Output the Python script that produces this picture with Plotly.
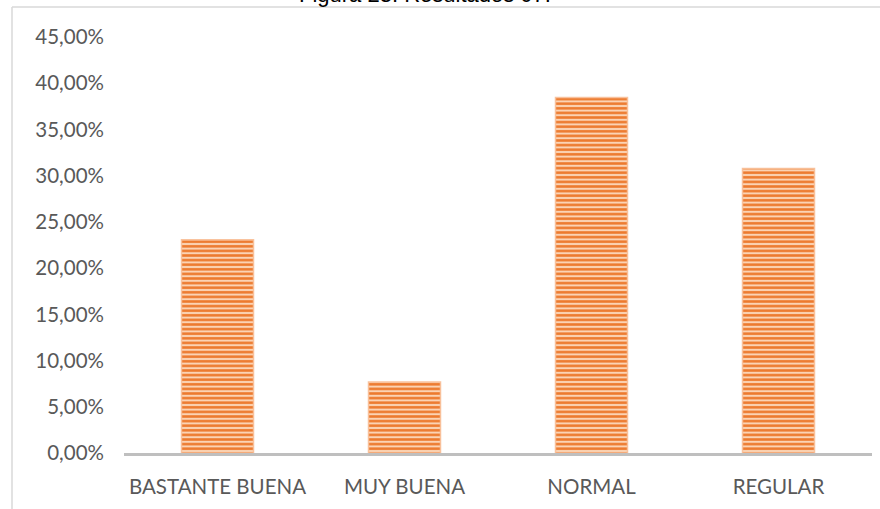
import plotly.graph_objects as go

categories = ["BASTANTE BUENA", "MUY BUENA", "NORMAL", "REGULAR"]
values = [23.08, 7.69, 38.46, 30.77]
tick_vals = [0, 5, 10, 15, 20, 25, 30, 35, 40, 45]
tick_labels = ["0,00%", "5,00%", "10,00%", "15,00%", "20,00%", "25,00%",
               "30,00%", "35,00%", "40,00%", "45,00%"]
title_text = "Figura 23. Resultados 07."

W, H = 880, 509
L, R, T, B = 124, 8, 37, 56
pw, ph = W - L - R, H - T - B

def px_to_paper_x(x):
    return (x - L) / pw

def px_to_paper_y(y):
    return (H - B - y) / ph

fig = go.Figure(go.Bar(
    x=categories, y=values, width=0.385,
    marker=dict(
        color="#F8C9A6",
        line=dict(color="rgba(248,190,150,0.9)", width=1.5),
        pattern=dict(shape="-", fgcolor="#ED7A2E", bgcolor="#FBD3B4",
                     size=4.6, solidity=0.55, fillmode="replace"),
    ),
    hoverinfo="x+y",
))

fig.update_layout(
    width=W, height=H,
    margin=dict(l=L, r=R, t=T, b=B, pad=0),
    paper_bgcolor="white", plot_bgcolor="white",
    showlegend=False,
    font=dict(family="Lato, Calibri, sans-serif", color="#595959", size=20.5),
    xaxis=dict(showgrid=False, showline=True, linecolor="#BFBFBF", linewidth=3,
               ticks="", ticklabelstandoff=13, zeroline=False,
               tickfont=dict(size=20.5, color="#595959")),
    yaxis=dict(range=[0, 45], tickvals=tick_vals, ticktext=tick_labels,
               showgrid=False, showline=False, zeroline=False, ticks="",
               ticklabelstandoff=19, tickfont=dict(size=20.5, color="#595959")),
    shapes=[
        dict(type="line", xref="paper", yref="paper",
             x0=px_to_paper_x(12), x1=px_to_paper_x(12),
             y0=px_to_paper_y(515), y1=px_to_paper_y(7),
             line=dict(color="#D9D9D9", width=1.5)),
        dict(type="line", xref="paper", yref="paper",
             x0=px_to_paper_x(12), x1=px_to_paper_x(890),
             y0=px_to_paper_y(7), y1=px_to_paper_y(7),
             line=dict(color="#D9D9D9", width=1.5)),
    ],
    annotations=[
        dict(text=title_text, xref="paper", yref="paper",
             x=px_to_paper_x(425), y=px_to_paper_y(-5),
             xanchor="center", yanchor="middle", showarrow=False,
             font=dict(family="Liberation Sans, Arial", size=22, color="black")),
    ],
)

fig.write_html("out.html", config={"displayModeBar": False},
               post_script="document.body.style.margin='0';document.body.style.padding='0';")
